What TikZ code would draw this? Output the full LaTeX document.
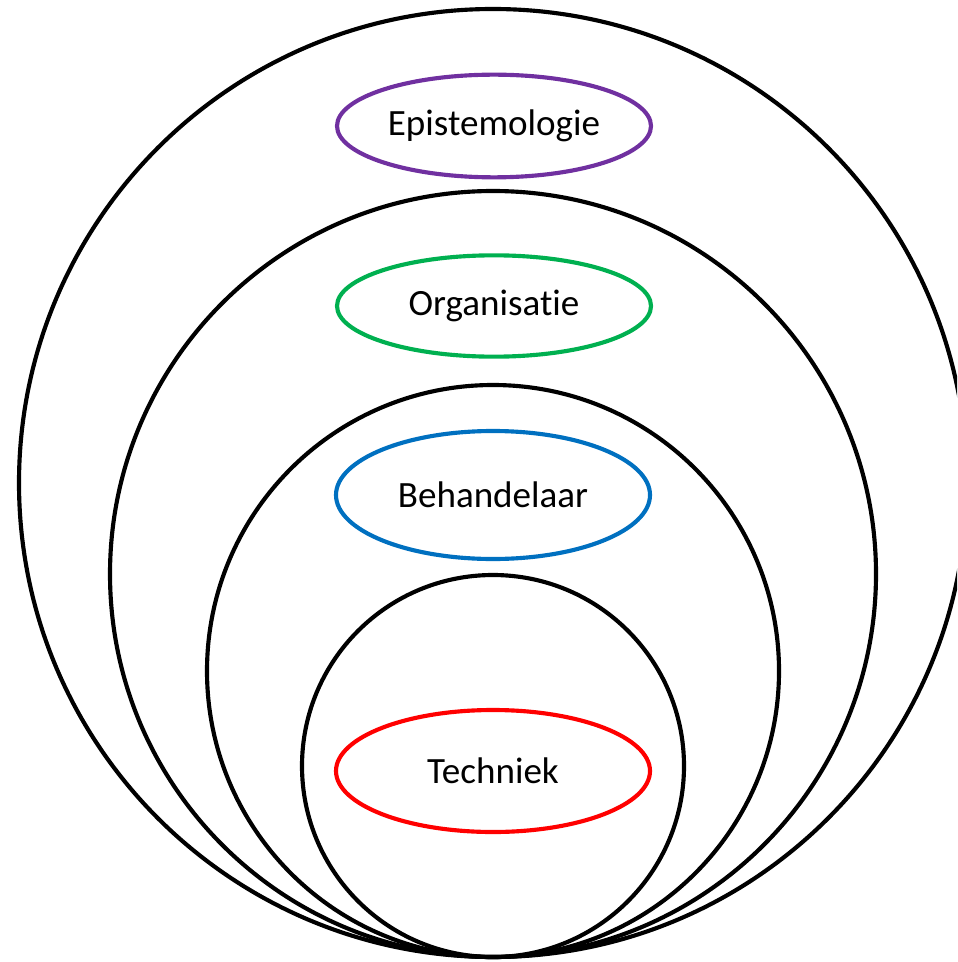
\documentclass[tikz,border=0pt]{standalone}
\usepackage{fontspec}
\setmainfont[Ligatures=NoCommon]{Carlito}
\usetikzlibrary{shapes.geometric}
\definecolor{epipurple}{HTML}{7030A0}
\definecolor{orggreen}{HTML}{00B050}
\definecolor{behblue}{HTML}{0070C0}
\definecolor{techred}{HTML}{FF0000}
\begin{document}
\begin{tikzpicture}[x=0.75pt,y=-0.75pt,
  ring/.style={circle, draw=black, line width=3.1pt, inner sep=0pt},
  label/.style={ellipse, line width=3.1pt, inner sep=0pt, minimum width=235.5pt,
    font=\fontsize{27.8pt}{33pt}\selectfont, text=black}]
\useasboundingbox (0,0) rectangle (957,962);
\clip (0,0) rectangle (957,962);
\node[ring, minimum size=711pt] (c1) at (493,483) {};
\node[ring, minimum size=574.5pt] (c2) at (493,574) {};
\node[ring, minimum size=429pt] (c3) at (493,671) {};
\node[ring, minimum size=286.5pt] (c4) at (493,766) {};
\node[label, draw=epipurple, minimum height=77pt] (epi) at (494,126) {Epistemologie};
\node[label, draw=orggreen, minimum height=76pt] (org) at (494,306) {Organisatie};
\node[label, draw=behblue, minimum height=96pt] (beh) at (493,495) {Behandelaar};
\node[label, draw=techred, minimum height=91.5pt] (tech) at (493,771) {Techniek};
\end{tikzpicture}
\end{document}
